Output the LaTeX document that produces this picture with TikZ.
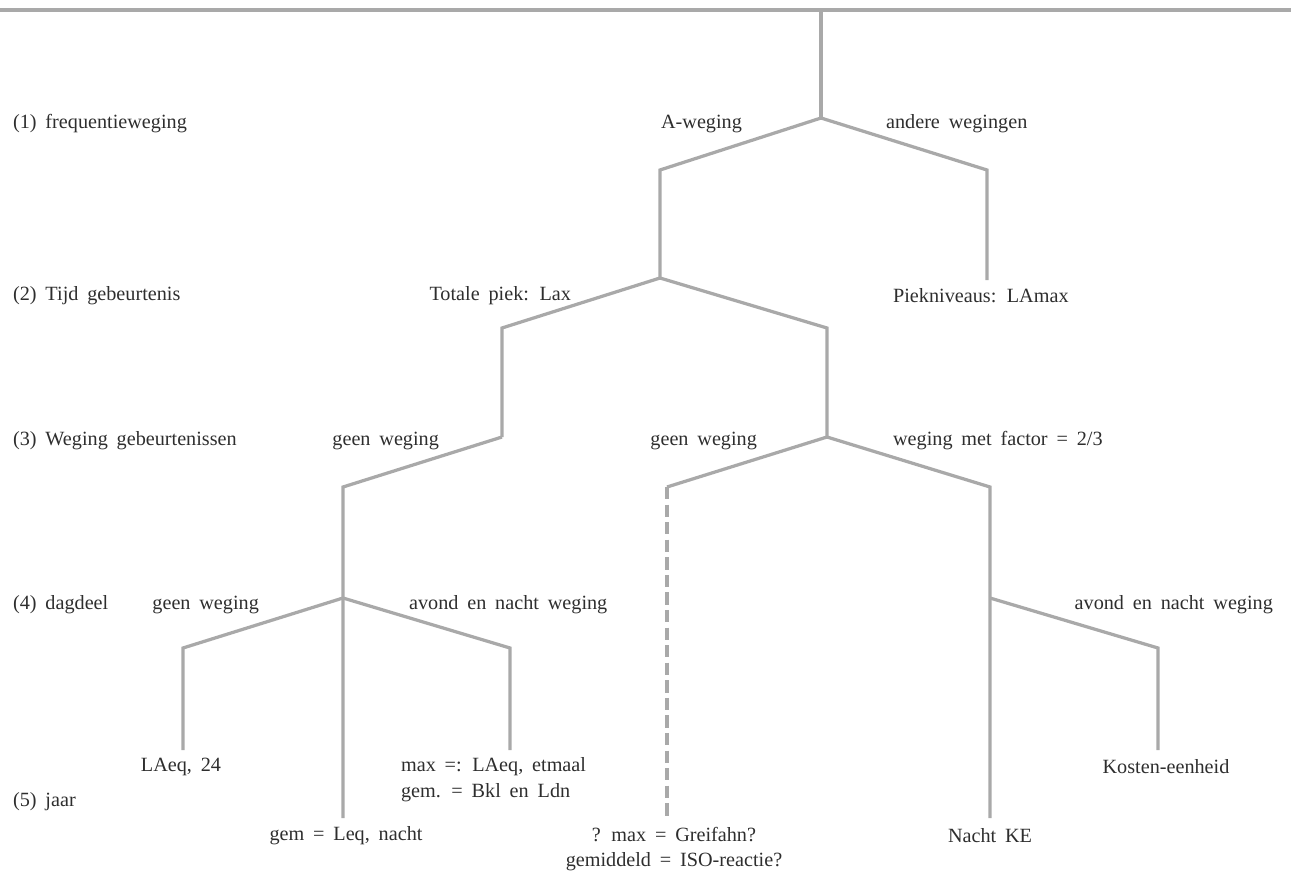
\documentclass[tikz,border=0pt]{standalone}
\usepackage{fontspec}
\setmainfont{Liberation Serif}[WordSpace=1.75]
\usetikzlibrary{positioning}
\definecolor{LijnGrijs}{HTML}{A9A9A9}
\definecolor{TekstZwart}{HTML}{2E2E2E}

\tikzset{
    tak/.style={draw=LijnGrijs, line width=1.85pt, line join=miter},
    stippel/.style={tak, dash pattern=on 7pt off 3pt},
    tekst/.style={text=TekstZwart, font=\fontsize{11.5}{14.7}\selectfont, inner sep=1pt},
    niveau/.style={tekst, anchor=west}
}

\begin{document}
\begin{tikzpicture}[x=0.02cm, y=-0.02cm]
    \useasboundingbox (0,0) rectangle (1291,882);

    % knooppunten van de boom
    \coordinate (links)  at (0,10);
    \coordinate (rechts) at (1291,10);
    \coordinate (wortel) at (821,10);
    \coordinate (aweg)   at (821,118);
    \coordinate (a1)     at (660,170);
    \coordinate (totaal) at (660,278);
    \coordinate (a2)     at (987,170);
    \coordinate (piek)   at (987,280);
    \coordinate (t1)     at (502,328);
    \coordinate (geen1)  at (502,437);
    \coordinate (t2)     at (827,328);
    \coordinate (geen2)  at (827,437);
    \coordinate (g1)     at (343,487);
    \coordinate (dag1)   at (343,598);
    \coordinate (dag1e)  at (343,818);
    \coordinate (d1)     at (183,648);
    \coordinate (d1e)    at (183,750);
    \coordinate (d2)     at (510,648);
    \coordinate (d2e)    at (510,750);
    \coordinate (s1)     at (667,487);
    \coordinate (s1e)    at (667,818);
    \coordinate (f1)     at (990,487);
    \coordinate (dag2)   at (990,598);
    \coordinate (dag2e)  at (990,818);
    \coordinate (k1)     at (1158,648);
    \coordinate (k1e)    at (1158,750);

    % takken
    \draw[tak, line width=2.3pt] (links) -- (rechts);
    \draw[tak] (wortel) -- (aweg);
    \draw[tak] (aweg) -- (a1) -- (totaal);
    \draw[tak] (aweg) -- (a2) -- (piek);
    \draw[tak] (totaal) -- (t1) -- (geen1);
    \draw[tak] (totaal) -- (t2) -- (geen2);
    \draw[tak] (geen1) -- (g1) -- (dag1e);
    \draw[tak] (dag1) -- (d1) -- (d1e);
    \draw[tak] (dag1) -- (d2) -- (d2e);
    \draw[tak] (geen2) -- (s1);
    \draw[stippel] (s1) -- (s1e);
    \draw[tak] (geen2) -- (f1) -- (dag2e);
    \draw[tak] (dag2) -- (k1) -- (k1e);

    % niveaus
    \node[niveau] (niv1) at (11,124) {(1) frequentieweging};
    \node[niveau] (niv2) at (11,296) {(2) Tijd gebeurtenis};
    \node[niveau] (niv3) at (11,441) {(3) Weging gebeurtenissen};
    \node[niveau] (niv4) at (11,605) {(4) dagdeel};
    \node[niveau] (niv5) at (11,802) {(5) jaar};

    % keuzes
    \node[tekst, anchor=east] (lAweg)   at (744,124) {A-weging};
    \node[tekst, anchor=west] (lAnder)  at (884,124) {andere wegingen};
    \node[tekst, anchor=east] (lTotaal) at (573,296) {Totale piek: Lax};
    \node[tekst, anchor=west] (lPiek)   at (891,296) {Piekniveaus: LAmax};
    \node[tekst, anchor=east] (lGeen1)  at (441,441) {geen weging};
    \node[tekst, anchor=east] (lGeen2)  at (759,441) {geen weging};
    \node[tekst, anchor=west] (lFactor) at (891,441) {weging met factor = 2/3};
    \node[tekst, anchor=east] (lGeen3)  at (261,605) {geen weging};
    \node[tekst, anchor=west] (lAvond1) at (407,605) {avond en nacht weging};
    \node[tekst, anchor=east] (lAvond2) at (1275,605) {avond en nacht weging};

    % uitkomsten
    \node[tekst] (lLaeq) at (181,767) {LAeq, 24};
    \node[tekst, align=left, anchor=west] (lMax) at (399,780)
        {max =: LAeq, etmaal\\gem. = Bkl en Ldn};
    \node[tekst] (lKosten) at (1166,767) {Kosten-eenheid};
    \node[tekst] (lLeq) at (346,836) {gem = Leq, nacht};
    \node[tekst, align=center] (lGreif) at (674,849)
        {? max = Greifahn?\\gemiddeld = ISO-reactie?};
    \node[tekst] (lNacht) at (990,836) {Nacht KE};
\end{tikzpicture}
\end{document}
